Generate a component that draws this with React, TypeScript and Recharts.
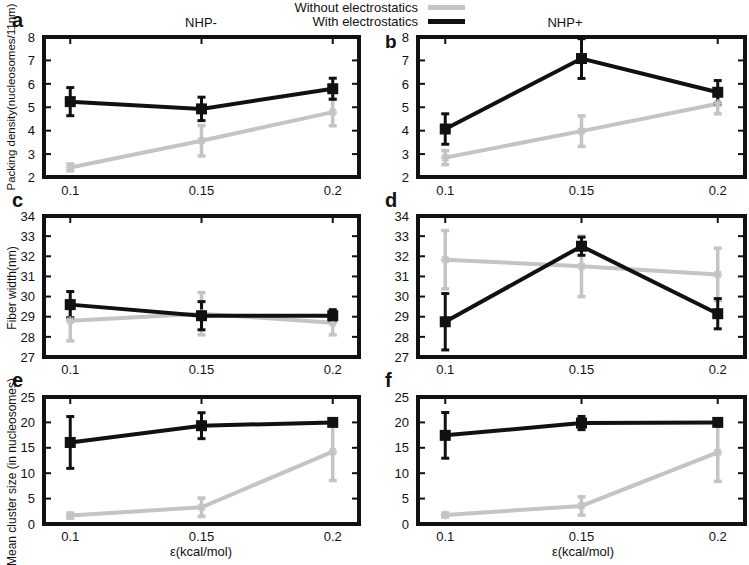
import { LineChart, Line, XAxis, YAxis, ErrorBar } from 'recharts'

const eps = [0.1, 0.15, 0.2]
const epsTicks = [0.1, 0.15, 0.2]

// packing density (nucleosomes/11nm)
const packNegWithout = [2.43, 3.57, 4.79]
const packNegWithoutErr = [0.15, 0.65, 0.58]
const packNegWith = [5.24, 4.93, 5.79]
const packNegWithErr = [0.6, 0.5, 0.45]
const packPosWithout = [2.85, 3.98, 5.15]
const packPosWithoutErr = [0.3, 0.65, 0.43]
const packPosWith = [4.07, 7.08, 5.64]
const packPosWithErr = [0.65, 0.85, 0.5]
const packTicks = [2, 3, 4, 5, 6, 7, 8]

// fiber width (nm)
const widthNegWithout = [28.8, 29.15, 28.7]
const widthNegWithoutErr = [1.0, 1.05, 0.6]
const widthNegWith = [29.6, 29.05, 29.05]
const widthNegWithErr = [0.65, 0.7, 0.3]
const widthPosWithout = [31.83, 31.5, 31.1]
const widthPosWithoutErr = [1.45, 1.5, 1.3]
const widthPosWith = [28.75, 32.5, 29.15]
const widthPosWithErr = [1.4, 0.45, 0.75]
const widthTicks = [27, 28, 29, 30, 31, 32, 33, 34]

// mean cluster size (in nucleosomes)
const clusterNegWithout = [1.65, 3.3, 14.25]
const clusterNegWithoutErr = [0.5, 1.8, 5.7]
const clusterNegWith = [16.05, 19.35, 20.0]
const clusterNegWithErr = [5.1, 2.55, 0.1]
const clusterPosWithout = [1.78, 3.55, 14.1]
const clusterPosWithoutErr = [0.4, 1.8, 5.7]
const clusterPosWith = [17.45, 19.87, 20.0]
const clusterPosWithErr = [4.5, 1.3, 0.1]
const clusterTicks = [0, 5, 10, 15, 20, 25]

const BLACK = '#111111'
const GRAY = '#c4c4c4'
const FONT = '"Liberation Sans", Arial, sans-serif'

const buildRows = (wo: number[], woErr: number[], w: number[], wErr: number[]) =>
  eps.map((e, i) => ({ eps: e, wo: wo[i], woErr: woErr[i], w: w[i], wErr: wErr[i] }))

const SquareDot = (props: any) => {
  const { cx, cy, index } = props
  if (cx == null || cy == null) return null
  return <rect key={`sq-${index}`} x={cx - 5.5} y={cy - 5.5} width={11} height={11} fill={BLACK} />
}

const StarDot = (props: any) => {
  const { cx, cy, index } = props
  if (cx == null || cy == null) return null
  const r = 4.5
  return (
    <g key={`st-${index}`} stroke={GRAY} strokeWidth={2}>
      <line x1={cx - r} y1={cy} x2={cx + r} y2={cy} />
      <line x1={cx} y1={cy - r} x2={cx} y2={cy + r} />
      <line x1={cx - r * 0.7} y1={cy - r * 0.7} x2={cx + r * 0.7} y2={cy + r * 0.7} />
      <line x1={cx - r * 0.7} y1={cy + r * 0.7} x2={cx + r * 0.7} y2={cy - r * 0.7} />
    </g>
  )
}

// left axis: label plus a tick pointing into the plot
const LeftTick = (props: any) => {
  const { x, y, payload } = props
  return (
    <g>
      <line x1={x + 9} y1={y} x2={x + 16} y2={y} stroke={BLACK} strokeWidth={2} />
      <text x={x} y={y} dy="0.36em" textAnchor="end" fill="#111" fontSize={13} fontFamily={FONT}>
        {payload.value}
      </text>
    </g>
  )
}

const RightTick = (props: any) => {
  const { x, y } = props
  return <line x1={x - 7} y1={y} x2={x} y2={y} stroke={BLACK} strokeWidth={2} />
}

const TopTick = (props: any) => {
  const { x, y } = props
  return <line x1={x} y1={y} x2={x} y2={y + 7} stroke={BLACK} strokeWidth={2} />
}

type PanelProps = {
  left: number
  top: number
  width: number
  height: number
  rows: any[]
  domain: [number, number]
  ticks: number[]
  rightAxisWidth: number
}

function Panel({ left, top, width, height, rows, domain, ticks, rightAxisWidth }: PanelProps) {
  const plotW = width - 44 - rightAxisWidth
  const plotH = height - 6 - 22
  return (
    <div style={{ position: 'absolute', left, top, width, height }}>
      <LineChart
        width={width}
        height={height}
        data={rows}
        margin={{ top: 5, right: 0, bottom: 0, left: 0 }}
      >
        <XAxis
          dataKey="eps"
          type="number"
          domain={[0.09, 0.21]}
          ticks={epsTicks}
          interval={0}
          allowDataOverflow
          height={22}
          tickLine={false}
          axisLine={false}
          tick={{ fill: '#111', fontSize: 13, fontFamily: FONT }}
        />
        <XAxis
          xAxisId="top"
          orientation="top"
          dataKey="eps"
          type="number"
          domain={[0.09, 0.21]}
          ticks={epsTicks}
          interval={0}
          allowDataOverflow
          height={1}
          tickSize={0}
          tickMargin={0}
          tickLine={false}
          axisLine={false}
          tick={<TopTick />}
        />
        <YAxis
          type="number"
          domain={domain}
          ticks={ticks}
          interval={0}
          allowDataOverflow
          width={44}
          tickSize={0}
          tickMargin={9}
          tickLine={false}
          axisLine={false}
          tick={<LeftTick />}
        />
        <YAxis
          yAxisId="right"
          orientation="right"
          type="number"
          domain={domain}
          ticks={ticks}
          interval={0}
          allowDataOverflow
          width={rightAxisWidth}
          tickSize={0}
          tickMargin={0}
          tickLine={false}
          axisLine={false}
          tick={<RightTick />}
        />
        <Line
          xAxisId="top"
          yAxisId="right"
          dataKey="w"
          stroke="none"
          dot={false}
          activeDot={false}
          legendType="none"
          isAnimationActive={false}
        />
        <Line
          dataKey="wo"
          stroke={GRAY}
          strokeWidth={4}
          dot={<StarDot />}
          activeDot={false}
          isAnimationActive={false}
        >
          <ErrorBar dataKey="woErr" direction="y" width={4} strokeWidth={3.5} stroke={GRAY} />
        </Line>
        <Line
          dataKey="w"
          stroke={BLACK}
          strokeWidth={4}
          dot={<SquareDot />}
          activeDot={false}
          isAnimationActive={false}
        >
          <ErrorBar dataKey="wErr" direction="y" width={4} strokeWidth={3} stroke={BLACK} />
        </Line>
      </LineChart>
      {/* plot frame */}
      <div
        style={{
          position: 'absolute',
          left: 44 - 2,
          top: 6 - 2,
          width: plotW + 4,
          height: plotH + 4,
          boxSizing: 'border-box',
          border: `4px solid ${BLACK}`,
          pointerEvents: 'none'
        }}
      />
    </div>
  )
}

const Txt = ({ x, y, children, size = 13, bold = false, anchor = 'left' }: any) => (
  <div
    style={{
      position: 'absolute',
      left: x,
      top: y,
      fontSize: size,
      fontWeight: bold ? 'bold' : 'normal',
      fontFamily: FONT,
      color: '#111',
      whiteSpace: 'nowrap',
      lineHeight: 1,
      transform: anchor === 'center' ? 'translateX(-50%)' : anchor === 'right' ? 'translateX(-100%)' : undefined
    }}
  >
    {children}
  </div>
)

const VText = ({ cx, cy, children, size = 12 }: any) => (
  <div
    style={{
      position: 'absolute',
      left: cx,
      top: cy,
      fontSize: size,
      fontFamily: FONT,
      color: '#111',
      whiteSpace: 'nowrap',
      lineHeight: 1,
      transform: 'translate(-50%, -50%) rotate(-90deg)'
    }}
  >
    {children}
  </div>
)

const rowTops = [30.5, 210, 391]
const rowHeights = [168.5, 169, 155]

export default function App() {
  return (
    <div
      style={{
        position: 'absolute',
        left: 0,
        top: 0,
        width: 749,
        height: 565,
        background: '#fff',
        overflow: 'hidden'
      }}
    >
      <Panel left={0} top={rowTops[0]} width={365} height={rowHeights[0]}
        rows={buildRows(packNegWithout, packNegWithoutErr, packNegWith, packNegWithErr)}
        domain={[2, 8]} ticks={packTicks} rightAxisWidth={6} />
      <Panel left={374} top={rowTops[0]} width={373} height={rowHeights[0]}
        rows={buildRows(packPosWithout, packPosWithoutErr, packPosWith, packPosWithErr)}
        domain={[2, 8]} ticks={packTicks} rightAxisWidth={2} />
      <Panel left={0} top={rowTops[1]} width={365} height={rowHeights[1]}
        rows={buildRows(widthNegWithout, widthNegWithoutErr, widthNegWith, widthNegWithErr)}
        domain={[27, 34]} ticks={widthTicks} rightAxisWidth={6} />
      <Panel left={374} top={rowTops[1]} width={373} height={rowHeights[1]}
        rows={buildRows(widthPosWithout, widthPosWithoutErr, widthPosWith, widthPosWithErr)}
        domain={[27, 34]} ticks={widthTicks} rightAxisWidth={2} />
      <Panel left={0} top={rowTops[2]} width={365} height={rowHeights[2]}
        rows={buildRows(clusterNegWithout, clusterNegWithoutErr, clusterNegWith, clusterNegWithErr)}
        domain={[0, 25]} ticks={clusterTicks} rightAxisWidth={6} />
      <Panel left={374} top={rowTops[2]} width={373} height={rowHeights[2]}
        rows={buildRows(clusterPosWithout, clusterPosWithoutErr, clusterPosWith, clusterPosWithErr)}
        domain={[0, 25]} ticks={clusterTicks} rightAxisWidth={2} />

      <Txt x={201} y={16} anchor="center">NHP-</Txt>
      <Txt x={565} y={16} anchor="center">NHP+</Txt>
      <Txt x={418} y={1} anchor="right">Without electrostatics</Txt>
      <Txt x={418} y={15} anchor="right">With electrostatics</Txt>
      <div style={{ position: 'absolute', left: 428, top: 5, width: 37, height: 5, background: GRAY }} />
      <div style={{ position: 'absolute', left: 428, top: 19, width: 37, height: 5, background: BLACK }} />

      <Txt x={12} y={10} size={20} bold>a</Txt>
      <Txt x={385} y={32} size={19} bold>b</Txt>
      <Txt x={12} y={190} size={20} bold>c</Txt>
      <Txt x={385} y={190} size={20} bold>d</Txt>
      <Txt x={12} y={370} size={20} bold>e</Txt>
      <Txt x={385} y={370} size={20} bold>f</Txt>

      <VText cx={12} cy={97} size={11.5}>Packing density(nucleosomes/11nm)</VText>
      <VText cx={12} cy={288}>Fiber width(nm)</VText>
      <VText cx={12} cy={472}>Mean cluster size (in nucleosomes)</VText>

      <Txt x={201} y={545} anchor="center">ε(kcal/mol)</Txt>
      <Txt x={583} y={545} anchor="center">ε(kcal/mol)</Txt>
    </div>
  )
}
